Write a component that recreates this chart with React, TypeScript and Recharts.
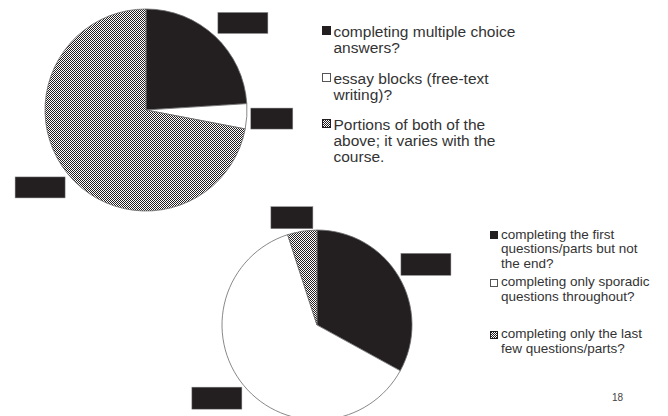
import React from "react";
import { PieChart, Pie, Cell, Legend } from "recharts";

// ---- data ----
const topCategories = [
  "completing multiple choice answers?",
  "essay blocks (free-text writing)?",
  "Portions of both of the above; it varies with the course.",
];
const topValues = [24, 4, 72];

const bottomCategories = [
  "completing the first questions/parts but not the end?",
  "completing only sporadic questions throughout?",
  "completing only the last few questions/parts?",
];
const bottomValues = [33, 62, 5];

const pageNumber = "18";

// ---- styles ----
const INK = "#231f20";
const EDGE = "#6a6a6a";
const TEXT = "#333333";
const FONT = "'Liberation Sans', Arial, sans-serif";

const topData = topCategories.map((name, i) => ({ name, value: topValues[i] }));
const bottomData = bottomCategories.map((name, i) => ({ name, value: bottomValues[i] }));

const Checker = ({ id }: { id: string }) => (
  <pattern id={id} width={2} height={2} patternUnits="userSpaceOnUse">
    <rect width={2} height={2} fill="#ffffff" />
    <rect width={1} height={1} fill={INK} />
    <rect x={1} y={1} width={1} height={1} fill={INK} />
  </pattern>
);

const clamp = (v: number) => Math.max(0, Math.min(1, v));

// redacted data labels: solid boxes placed outside the slice end
const makeBoxLabel = (gap: number, h: number) => (props: any) => {
  const { cx, cy, midAngle, outerRadius, value } = props;
  const rad = Math.PI / 180;
  const c = Math.cos(midAngle * rad);
  const s = Math.sin(midAngle * rad);
  const px = cx + (outerRadius + gap) * c;
  const py = cy - (outerRadius + gap) * s;
  const w = String(value).length > 1 ? 50 : 42;
  const fx = clamp(0.5 - 1.5 * c);
  const fy = clamp(0.5 + 1.5 * s);
  return (
    <rect
      x={px - w * fx}
      y={py - h * fy}
      width={w}
      height={h}
      fill={INK}
      stroke="#8a8a8a"
      strokeWidth={0.5}
    />
  );
};

type LegendCfg = {
  categories: string[];
  fills: string[];
  patternId: string;
  fontSize: number;
  lineHeight: number;
  marker: number;
  markerTop: number;
  markerGap: number;
  textWidth: number;
  gaps: number[];
};

const makeLegend = (cfg: LegendCfg) => (props: any) => {
  const payload = [...(props.payload || [])].sort(
    (a: any, b: any) => cfg.categories.indexOf(a.value) - cfg.categories.indexOf(b.value)
  );
  return (
    <div style={{ fontFamily: FONT, fontSize: cfg.fontSize, lineHeight: `${cfg.lineHeight}px`, color: TEXT }}>
      {payload.map((entry: any, i: number) => {
        const fill = cfg.fills[cfg.categories.indexOf(entry.value)];
        return (
          <div key={i} style={{ display: "flex", alignItems: "flex-start", marginTop: i === 0 ? 0 : cfg.gaps[i - 1] }}>
            <svg width={cfg.marker} height={cfg.marker} style={{ marginTop: cfg.markerTop, marginRight: cfg.markerGap, flex: "none" }}>
              <defs>
                <Checker id={`${cfg.patternId}-lg`} />
              </defs>
              <rect
                x={0.5}
                y={0.5}
                width={cfg.marker - 1}
                height={cfg.marker - 1}
                fill={fill.startsWith("url") ? `url(#${cfg.patternId}-lg)` : fill}
                stroke={fill === "#ffffff" ? "#555" : INK}
                strokeWidth={1}
              />
            </svg>
            <span style={{ width: cfg.textWidth }}>{entry.value}</span>
          </div>
        );
      })}
    </div>
  );
};

const topFills = [INK, "#ffffff", "url(#chk-top)"];
const bottomFills = [INK, "#ffffff", "url(#chk-bottom)"];

export default function App() {
  return (
    <div style={{ position: "absolute", left: 0, top: 0, width: 668, height: 416, background: "#ffffff" }}>
      <div style={{ position: "absolute", left: 0, top: 0 }}>
        <PieChart width={668} height={416} margin={{ top: 0, right: 0, bottom: 0, left: 0 }}>
          <defs>
            <Checker id="chk-top" />
          </defs>
          <Pie
            data={topData}
            dataKey="value"
            nameKey="name"
            cx={146}
            cy={110}
            outerRadius={101}
            startAngle={90}
            endAngle={-270}
            stroke={EDGE}
            strokeWidth={0.8}
            label={makeBoxLabel(4, 21)}
            labelLine={false}
            isAnimationActive={false}
          >
            {topData.map((d, i) => (
              <Cell key={d.name} fill={topFills[i]} />
            ))}
          </Pie>
          <Legend
            layout="vertical"
            align="right"
            verticalAlign="top"
            wrapperStyle={{ left: 322, top: 24, width: 220, right: "auto" }}
            content={makeLegend({
              categories: topCategories,
              fills: topFills,
              patternId: "chk-top",
              fontSize: 15.5,
              lineHeight: 16,
              marker: 9,
              markerTop: 2,
              markerGap: 2.5,
              textWidth: 192,
              gaps: [15, 14],
            })}
          />
        </PieChart>
      </div>
      <div style={{ position: "absolute", left: 0, top: 0 }}>
        <PieChart width={668} height={416} margin={{ top: 0, right: 0, bottom: 0, left: 0 }}>
          <defs>
            <Checker id="chk-bottom" />
          </defs>
          <Pie
            data={bottomData}
            dataKey="value"
            nameKey="name"
            cx={317}
            cy={325}
            outerRadius={95}
            startAngle={90}
            endAngle={-270}
            stroke={EDGE}
            strokeWidth={0.8}
            label={makeBoxLabel(2.5, 22)}
            labelLine={false}
            isAnimationActive={false}
          >
            {bottomData.map((d, i) => (
              <Cell key={d.name} fill={bottomFills[i]} />
            ))}
          </Pie>
          <Legend
            layout="vertical"
            align="right"
            verticalAlign="top"
            wrapperStyle={{ left: 490, top: 227.5, width: 175, right: "auto" }}
            content={makeLegend({
              categories: bottomCategories,
              fills: bottomFills,
              patternId: "chk-bottom",
              fontSize: 13.5,
              lineHeight: 14.5,
              marker: 8,
              markerTop: 3.5,
              markerGap: 3,
              textWidth: 154,
              gaps: [4, 23],
            })}
          />
          <text x={612} y={401} fontSize={10} fill="#444" fontFamily={FONT}>
            {pageNumber}
          </text>
        </PieChart>
      </div>
    </div>
  );
}
